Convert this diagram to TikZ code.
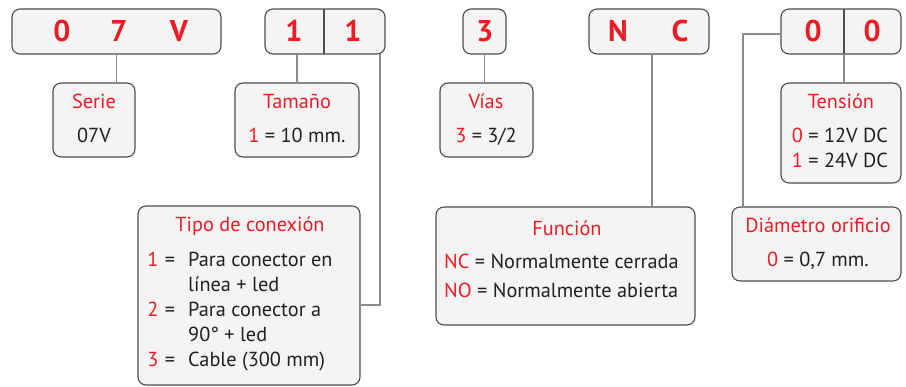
\documentclass[tikz,border=0pt]{standalone}
\usepackage{fontspec}
\setmainfont{PT Sans}
\definecolor{rd}{HTML}{ED1C24}
\definecolor{fillg}{HTML}{F4F4F4}
\definecolor{edgec}{HTML}{4D4D4D}
\definecolor{connc}{HTML}{8C8C8C}
\definecolor{txt}{HTML}{231F20}
\begin{document}
\begin{tikzpicture}[x=1pt,y=-1pt,
  box/.style={draw=edgec, fill=fillg, line width=1.1pt, rounded corners=8pt, inner sep=0pt},
  connector/.style={draw=connc, line width=1.4pt},
  big/.style={text=rd, font=\fontsize{30}{31}\selectfont\bfseries, anchor=base, inner sep=0pt},
  ttl/.style={text=rd, font=\fontsize{20.3}{22}\selectfont, anchor=base, inner sep=0pt},
  body/.style={text=txt, font=\fontsize{20.3}{22}\selectfont, anchor=base, inner sep=0pt},
  bodyw/.style={text=txt, font=\fontsize{20.3}{22}\selectfont, anchor=base west, inner sep=0pt},
]
\useasboundingbox (0,0) rectangle (906,387);

\coordinate (b2r) at (380,54);
\coordinate (tipoC) at (380,305);
\coordinate (b5l) at (781,34);
\coordinate (diamC) at (743,34);
\coordinate (b5d) at (844,54);

% top code boxes
\node[box, minimum width=209pt, minimum height=45pt] (b1) at (116.5,31.5) {};
\node[box, minimum width=120pt, minimum height=45pt] (b2) at (325,31.5) {};
\node[box, minimum width=43pt, minimum height=45pt] (b3) at (484.5,31.5) {};
\node[box, minimum width=120pt, minimum height=45pt] (b4) at (649,31.5) {};
\node[box, minimum width=120pt, minimum height=45pt] (b5) at (841,31.5) {};
\draw[draw=edgec, line width=1.1pt] (324,9) -- (324,54);
\draw[draw=edgec, line width=1.1pt] (844,9) -- (844,54);

\node[big] (c1) at (62,42) {0};
\node[big] (c2) at (119,42) {7};
\node[big] (c3) at (179,42) {V};
\node[big] (c4) at (294,42) {1};
\node[big] (c5) at (353,42) {1};
\node[big] (c6) at (485,42) {3};
\node[big] (c7) at (618,42) {N};
\node[big] (c8) at (680,42) {C};
\node[big] (c9) at (813,42) {0};
\node[big] (c10) at (872,42) {0};

% description boxes
\node[box, minimum width=82pt, minimum height=74pt] (serie) at (94,120) {};
\node[box, minimum width=124pt, minimum height=74pt] (tam) at (297,120) {};
\node[box, minimum width=93pt, minimum height=74pt] (vias) at (486.5,120) {};
\node[box, minimum width=120pt, minimum height=100pt] (tens) at (841,133) {};
\node[box, minimum width=222pt, minimum height=179pt] (tipo) at (249,295.5) {};
\node[box, minimum width=259pt, minimum height=118pt] (func) at (565.5,266) {};
\node[box, minimum width=169pt, minimum height=74pt] (diam) at (816.5,244) {};

% connectors
\draw[connector] (b1.south) -- (b1.south |- serie.north);
\draw[connector] (tam.north) -- (tam.north |- b2.south);
\draw[connector] (b3.south) -- (b3.south |- vias.north);
\draw[connector] (b4.south -| 652,0) -- (func.north -| 652,0);
\draw[connector] (b5d) -- (b5d |- tens.north);
\draw[connector] (b2r) -- (tipoC) -- (tipoC -| tipo.east);
\draw[connector] (b5l) -- (diamC) -- (diamC |- diam.north);

% texts
\node[ttl] (t1) at (94,109) {Serie};
\node[body] (t2) at (94,143) {07V};
\node[ttl] (t3) at (297,109) {Tamaño};
\node[body] (t4) at (297,143) {{\color{rd}1} = 10 mm.};
\node[ttl] (t5) at (486,109) {Vías};
\node[body] (t6) at (486,143) {{\color{rd}3} = 3/2};
\node[ttl] (t7) at (841,109) {Tensión};
\node[body] (t8) at (840,143) {{\color{rd}0} = 12V DC};
\node[body] (t9) at (840,168) {{\color{rd}1} = 24V DC};

\node[ttl] (t10) at (250,232) {Tipo de conexión};
\node[ttl] (n1) at (153,267) {1};
\node[body] (e1) at (170,267) {=};
\node[bodyw] (l1) at (188,267) {Para conector en};
\node[bodyw] (l2) at (188,292) {línea + led};
\node[ttl] (n2) at (153,317) {2};
\node[body] (e2) at (170,317) {=};
\node[bodyw] (l3) at (188,317) {Para conector a};
\node[bodyw] (l4) at (188,342) {90° + led};
\node[ttl] (n3) at (153,367) {3};
\node[body] (e3) at (170,367) {=};
\node[bodyw] (l5) at (188,367) {Cable (300 mm)};

\node[ttl] (t11) at (567,236) {Función};
\node[bodyw] (f1) at (444,269) {{\color{rd}NC} = Normalmente cerrada};
\node[bodyw] (f2) at (444,298) {{\color{rd}NO} = Normalmente abierta};

\node[ttl] (t12) at (818,233) {Diámetro orificio};
\node[body] (t13) at (818,267) {{\color{rd}0} = 0,7 mm.};
\end{tikzpicture}
\end{document}
